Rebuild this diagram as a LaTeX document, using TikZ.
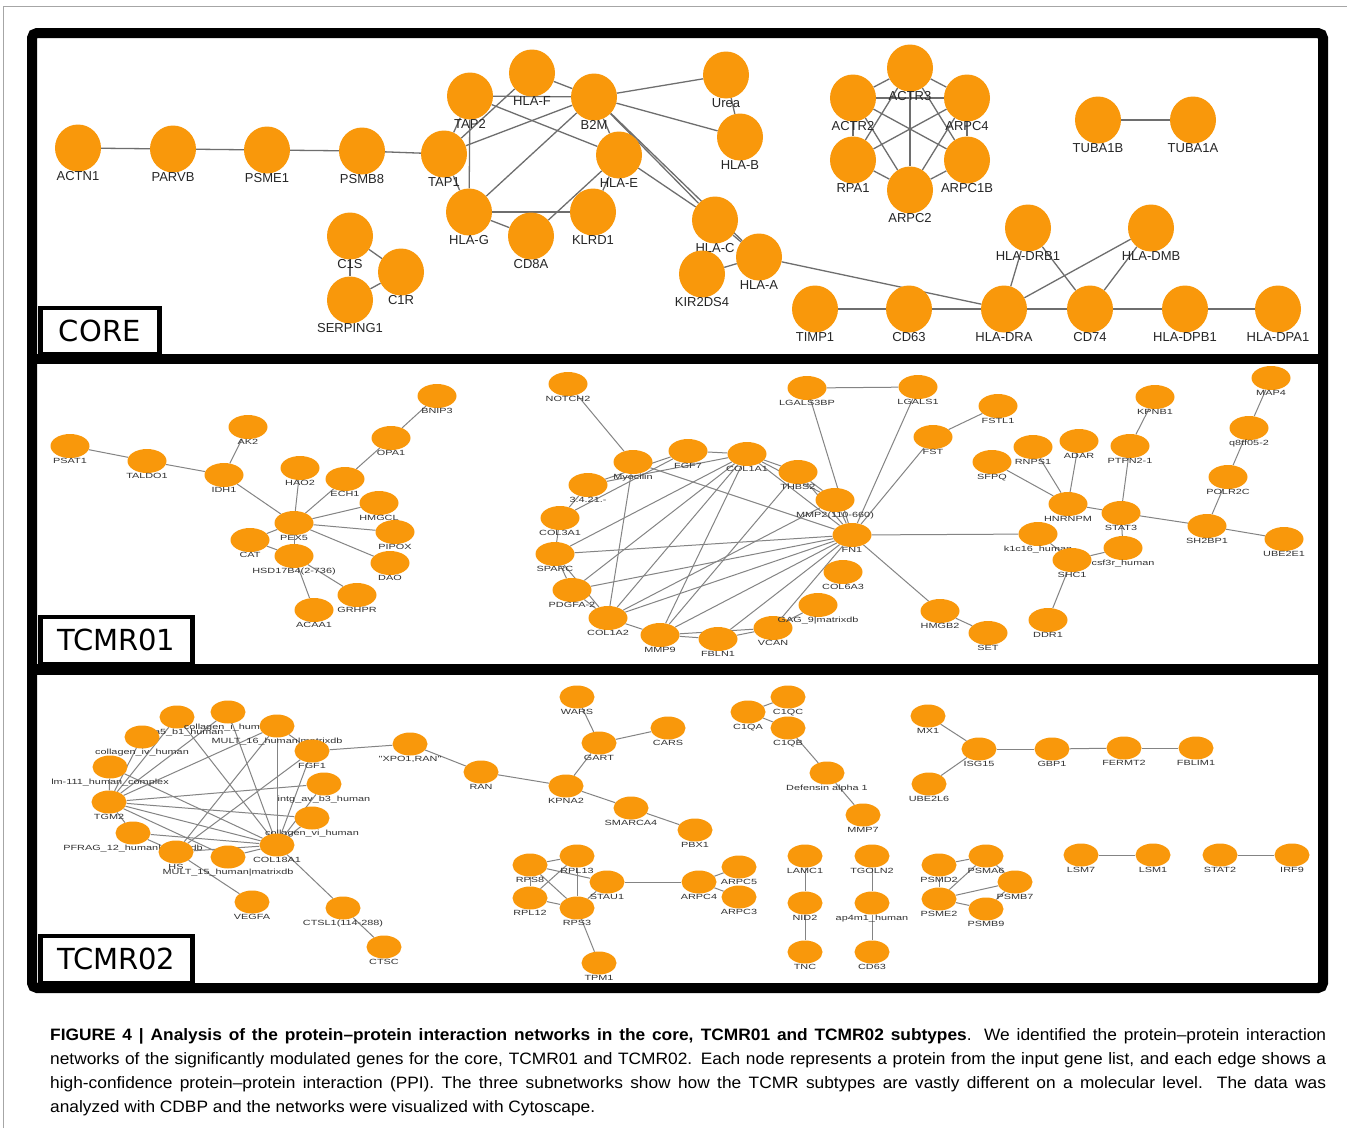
\documentclass[tikz,border=0pt]{standalone}
\usepackage{fontspec}
\setmainfont{Liberation Sans}
\newfontfamily\tagfont{DejaVu Sans}
\newfontfamily\netfont[FakeStretch=1.45]{Liberation Sans}
\newfontfamily\capfont[FakeStretch=1.05]{Liberation Sans}
\usetikzlibrary{shapes.geometric,backgrounds}
\definecolor{cyorange}{HTML}{F9980B}
\definecolor{edgegray}{HTML}{6E6E6E}

\begin{document}
\begin{tikzpicture}[x=1pt,y=-1pt]
  \tikzstyle{core}=[ellipse,fill=cyorange,inner sep=0pt,minimum width=46pt,minimum height=47pt,label distance=0.5pt]
  \tikzstyle{sub}=[ellipse,fill=cyorange,inner sep=0pt,minimum width=39pt,minimum height=24pt,label distance=1.5pt]
  \tikzstyle{subb}=[ellipse,fill=cyorange,inner sep=0pt,minimum width=35pt,minimum height=23pt,label distance=1.5pt]
  \tikzstyle{clab}=[inner sep=0pt,text=black!85,font=\fontsize{13}{13}\selectfont]
  \tikzstyle{slab}=[inner sep=0pt,text=black!80,font=\netfont\fontsize{7.5}{8}\selectfont]
  \tikzstyle{ppi}=[draw=edgegray,line width=1.3pt]
  \tikzstyle{tppi}=[draw=edgegray!85,line width=1pt]
  \tikzstyle{tagbox}=[draw,line width=4.5pt,fill=white,anchor=south west,font=\tagfont\fontsize{29}{30}\selectfont,inner sep=0pt]
  \useasboundingbox (0,0) rectangle (1347,1128);
  \begin{scope}[on background layer]
    \fill[white] (0,0) rectangle (1347,1128);
  \end{scope}
  \draw[gray!70,line width=1pt] (3,1128) -- (3,6) -- (1347,6);

  % CORE
  \foreach \n/\x/\y/\t in {ACTN1/78/148/ACTN1, PARVB/173/149/PARVB, PSME1/267/150/PSME1, PSMB8/362/151/PSMB8,
      TAP1/444/154/TAP1, TAP2/470/96/TAP2, HLAF/532/73/HLA-F, B2M/594/97/B2M, HLAE/619/155/HLA-E,
      HLAG/469/212/HLA-G, CD8A/531/236/CD8A, KLRD1/593/212/KLRD1, Urea/726/75/Urea, HLAB/740/137/HLA-B,
      HLAC/715/220/HLA-C, HLAA/759/257/HLA-A, KIR/702/274/KIR2DS4, C1S/350/236/C1S, C1R/401/272/C1R,
      SERP/350/300/SERPING1, ACTR3/910/68/ACTR3, ACTR2/853/98/ACTR2, ARPC4/967/98/ARPC4, RPA1/853/160/RPA1,
      ARPC1B/967/160/ARPC1B, ARPC2/910/190/ARPC2, TUBA1B/1098/120/TUBA1B, TUBA1A/1193/120/TUBA1A,
      DRB1/1028/228/HLA-DRB1, DMB/1151/228/HLA-DMB, TIMP1/815/309/TIMP1, CD63/909/309/CD63,
      DRA/1004/309/HLA-DRA, CD74/1090/309/CD74, DPB1/1185/309/HLA-DPB1, DPA1/1278/309/HLA-DPA1}
    \node[core,label={[clab]below:\t}] (\n) at (\x,\y) {};

  % TCMR01
  \foreach \n/\x/\y/\t in {PSAT1/70/446/PSAT1, TALDO1/147/461/TALDO1, IDH1/224/475/IDH1, AK2/248/427/AK2,
      BNIP3/437/396/BNIP3, OPA1/391/438/OPA1, HAO2/300/468/HAO2, ECH1/345/479/ECH1, HMGCL/379/503/HMGCL,
      PEX5/294/523/PEX5, PIPOX/395/532/PIPOX, CAT/250/540/CAT, HSD/294/556/HSD17B4(2-736), DAO/390/563/DAO,
      GRHPR/357/595/GRHPR, ACAA1/314/610/ACAA1,
      NOTCH2/568/384/NOTCH2, MYOC/633/462/Myocilin, FGF7/688/451/FGF7, COL1A1/747/454/COL1A1,
      THBS2/798/472/THBS2, MMP2/835/500/MMP2(110-660), PEPT/588/485/3.4.21.-, COL3A1/560/518/COL3A1,
      SPARC/555/554/SPARC, PDGFA/572/590/PDGFA-2, COL1A2/608/618/COL1A2, MMP9/660/635/MMP9,
      FBLN1/718/639/FBLN1, VCAN/773/628/VCAN, GAG/818/605/GAG\_9|matrixdb, COL6A3/843/572/COL6A3,
      FN1/852/535/FN1, LGALS3BP/807/388/LGALS3BP, LGALS1/918/387/LGALS1, FSTL1/998/406/FSTL1,
      FST/933/437/FST, SFPQ/992/462/SFPQ, RNPS1/1033/447/RNPS1, ADAR/1079/441/ADAR, PTPN2/1130/446/PTPN2-1,
      KPNB1/1155/397/KPNB1, MAP4/1271/378/MAP4, Q8TF/1249/428/q8tf05-2, POLR2C/1228/477/POLR2C,
      HNRNPM/1068/504/HNRNPM, STAT3/1121/513/STAT3, SH2BP1/1207/526/SH2BP1, UBE2E1/1284/539/UBE2E1,
      K1C16/1038/534/k1c16\_human, CSF3R/1123/548/csf3r\_human, SHC1/1072/560/SHC1, DDR1/1048/620/DDR1,
      HMGB2/940/611/HMGB2, SET/988/633/SET}
    \node[sub,label={[slab]below:\t}] (\n) at (\x,\y) {};

  % TCMR02
  \foreach \n/\x/\y/\t in {INTG/177/717/intg\_a5\_b1\_human, COLI/228/712/collagen\_i\_human,
      COLIV/142/737/collagen\_iv\_human, LM/110/767/lm-111\_human\_complex, MULT16/277/726/MULT\_16\_human|matrixdb,
      FGF1/312/751/FGF1, INTGAV/324/784/intg\_av\_b3\_human, TGM2/109/802/TGM2, COLVI/312/818/collagen\_vi\_human,
      PFRAG/133/833/PFRAG\_12\_human|matrixdb, HS/176/852/HS, MULT15/228/857/MULT\_15\_human|matrixdb,
      COL18A1/277/845/COL18A1, VEGFA/252/902/VEGFA, CTSL1/343/908/CTSL1(114-288), CTSC/384/947/CTSC,
      XPO/410/744/{"XPO1,RAN"}, RAN/481/772/RAN, WARS/577/697/WARS, CARS/668/728/CARS, GART/599/743/GART,
      KPNA2/566/786/KPNA2, SMARCA4/631/808/SMARCA4, PBX1/695/830/PBX1, RPS8/530/865/RPS8,
      RPL13/577/856/RPL13, STAU1/607/882/STAU1, RPL12/530/898/RPL12, RPS3/577/908/RPS3, TPM1/599/963/TPM1,
      ARPC4b/699/882/ARPC4, ARPC5/739/867/ARPC5, ARPC3/739/897/ARPC3, C1QA/748/712/C1QA, C1QC/788/697/C1QC,
      C1QB/788/728/C1QB, DEFA/827/773/Defensin alpha 1, MMP7/863/815/MMP7, MX1/928/716/MX1,
      ISG15/979/749/ISG15, UBE2L6/929/784/UBE2L6, GBP1/1052/749/GBP1, FERMT2/1124/748/FERMT2,
      FBLIM1/1196/748/FBLIM1, LAMC1/805/856/LAMC1, NID2/805/903/NID2, TNC/805/952/TNC,
      TGOLN2/872/856/TGOLN2, AP4M1/872/903/ap4m1\_human, CD63b/872/952/CD63, PSMD2/939/865/PSMD2,
      PSMA6/986/856/PSMA6, PSMB7/1015/882/PSMB7, PSME2/939/899/PSME2, PSMB9/986/909/PSMB9,
      LSM7/1081/855/LSM7, LSM1/1153/855/LSM1, STAT2/1220/855/STAT2, IRF9/1292/855/IRF9}
    \node[subb,label={[slab]below:\t}] (\n) at (\x,\y) {};

  \begin{scope}[on background layer]
    \foreach \a/\b in {ACTN1/PARVB,PARVB/PSME1,PSME1/PSMB8,PSMB8/TAP1,TAP1/TAP2,TAP1/HLAF,TAP1/B2M,TAP1/HLAG,
        TAP2/B2M,TAP2/HLAG,TAP2/HLAE,HLAF/B2M,B2M/HLAG,B2M/HLAE,B2M/Urea,B2M/HLAB,B2M/HLAC,B2M/HLAA,
        HLAE/KLRD1,HLAE/CD8A,HLAE/HLAC,HLAG/KLRD1,HLAG/CD8A,HLAC/HLAA,KIR/HLAA,Urea/HLAB,HLAA/DRA,
        C1S/C1R,C1S/SERP,C1R/SERP,ACTR2/ACTR3,ACTR3/ARPC4,ACTR2/ARPC4,ACTR2/RPA1,ARPC4/ARPC1B,RPA1/ARPC2,
        ARPC1B/ARPC2,ACTR3/ARPC2,ACTR2/ARPC1B,ARPC4/RPA1,ACTR2/ARPC2,ARPC4/ARPC2,ACTR3/RPA1,ACTR3/ARPC1B,
        TUBA1B/TUBA1A,TIMP1/CD63,CD63/DRA,DRA/CD74,CD74/DPB1,DPB1/DPA1,DRA/DRB1,DRA/DMB,CD74/DRB1,CD74/DMB}
      \draw[ppi] (\a) -- (\b);
    \foreach \a/\b in {PSAT1/TALDO1,TALDO1/IDH1,IDH1/AK2,IDH1/PEX5,PEX5/HAO2,PEX5/ECH1,ECH1/OPA1,OPA1/BNIP3,
        PEX5/HMGCL,PEX5/PIPOX,PEX5/DAO,PEX5/CAT,PEX5/HSD,CAT/HSD,HSD/ACAA1,HSD/GRHPR,
        NOTCH2/MYOC,MYOC/COL1A2,MYOC/FN1,PEPT/FGF7,PEPT/COL1A1,COL3A1/FGF7,FGF7/COL1A1,COL1A1/THBS2,
        COL1A1/MMP2,COL1A1/FN1,COL1A1/SPARC,COL1A1/COL1A2,COL1A1/MMP9,COL1A1/PDGFA,THBS2/MMP2,THBS2/FN1,
        THBS2/MMP9,MMP2/FN1,MMP2/COL1A2,LGALS3BP/FN1,LGALS3BP/LGALS1,LGALS1/FN1,FST/FN1,FST/FSTL1,
        FN1/SPARC,FN1/PDGFA,FN1/COL1A2,FN1/MMP9,FN1/VCAN,FN1/FBLN1,FN1/K1C16,FN1/HMGB2,HMGB2/SET,
        PEPT/COL3A1,COL3A1/SPARC,SPARC/PDGFA,PDGFA/COL1A2,SPARC/COL1A2,COL1A2/MMP9,MMP9/FBLN1,FBLN1/VCAN,
        MMP9/VCAN,VCAN/GAG,
        SFPQ/HNRNPM,RNPS1/HNRNPM,ADAR/HNRNPM,HNRNPM/STAT3,KPNB1/PTPN2,PTPN2/STAT3,STAT3/CSF3R,STAT3/SH2BP1,
        CSF3R/SHC1,K1C16/SHC1,SHC1/DDR1,SH2BP1/POLR2C,SH2BP1/UBE2E1,POLR2C/Q8TF,Q8TF/MAP4,
        TGM2/INTG,TGM2/COLI,TGM2/COLIV,TGM2/LM,TGM2/MULT16,TGM2/INTGAV,TGM2/COLVI,TGM2/COL18A1,TGM2/PFRAG,
        TGM2/MULT15,COL18A1/INTG,COL18A1/COLI,COL18A1/MULT16,COL18A1/FGF1,COL18A1/INTGAV,COL18A1/COLVI,
        COL18A1/HS,COL18A1/MULT15,COL18A1/PFRAG,COL18A1/CTSL1,COL18A1/LM,HS/FGF1,HS/MULT16,HS/VEGFA,HS/PFRAG,
        MULT16/FGF1,FGF1/XPO,CTSL1/CTSC,XPO/RAN,RAN/KPNA2,KPNA2/GART,GART/WARS,GART/CARS,KPNA2/SMARCA4,
        SMARCA4/PBX1,RPS8/RPL13,RPS8/RPL12,RPS8/STAU1,RPS8/RPS3,RPL13/RPL12,RPL13/RPS3,RPL12/RPS3,RPS3/STAU1,
        STAU1/ARPC4b,ARPC4b/ARPC5,ARPC4b/ARPC3,RPS3/TPM1,C1QA/C1QC,C1QA/C1QB,C1QB/DEFA,DEFA/MMP7,MX1/ISG15,
        UBE2L6/ISG15,ISG15/GBP1,GBP1/FERMT2,FERMT2/FBLIM1,LAMC1/NID2,NID2/TNC,TGOLN2/AP4M1,AP4M1/CD63b,
        PSMD2/PSMA6,PSMD2/PSME2,PSME2/PSMA6,PSME2/PSMB7,PSME2/PSMB9,PSMA6/PSMB7,PSMB7/PSMB9,LSM7/LSM1,STAT2/IRF9}
      \draw[tppi] (\a) -- (\b);
  \end{scope}

  % panel frame and tags
  \node[tagbox,minimum width=119pt,minimum height=46pt] (coretag) at (38,356) {CORE};
  \node[tagbox,minimum width=152pt,minimum height=47pt] (onetag) at (38,666) {TCMR01};
  \node[tagbox,minimum width=152pt,minimum height=47pt] (twotag) at (38,985) {TCMR02};
  \draw[line width=10pt,rounded corners=5pt] (32,33) rectangle (1323,988);
  \draw[line width=10pt] (32,359) -- (1323,359);
  \draw[line width=11pt] (32,669) -- (1323,669);

  % caption
  \begin{scope}[every node/.style={anchor=base west,inner sep=0pt,font=\capfont\fontsize{16.5}{20}\selectfont}]
    \node (cap1) at (50,1040) {\makebox[1276pt][s]{\textbf{FIGURE 4 | Analysis of the protein–protein interaction networks in the core, TCMR01 and TCMR02 subtypes}. We identified the protein–protein interaction}};
    \node (cap2) at (50,1064) {\makebox[1276pt][s]{networks of the significantly modulated genes for the core, TCMR01 and TCMR02. Each node represents a protein from the input gene list, and each edge shows a}};
    \node (cap3) at (50,1088) {\makebox[1276pt][s]{high-confidence protein–protein interaction (PPI). The three subnetworks show how the TCMR subtypes are vastly different on a molecular level. The data was}};
    \node (cap4) at (50,1112) {analyzed with CDBP and the networks were visualized with Cytoscape.};
  \end{scope}
\end{tikzpicture}
\end{document}
